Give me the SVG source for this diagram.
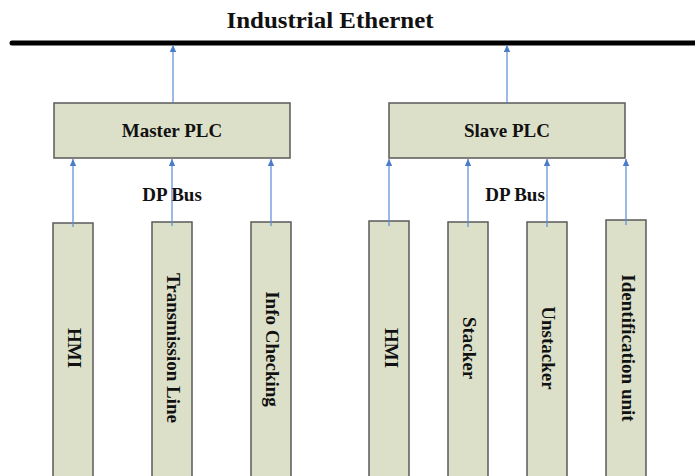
<svg xmlns="http://www.w3.org/2000/svg" width="695" height="476" viewBox="0 0 695 476">
<defs>
<style>
.box{fill:#dde0c9;stroke:#5a5a5a;stroke-width:1.5}
.t{font-family:"Liberation Serif","Times New Roman",serif;font-weight:bold;font-size:19px;fill:#111;text-anchor:middle}
.v{dominant-baseline:central}
.c{stroke:#5b8ad4;stroke-width:1.2;fill:none;marker-end:url(#ah)}
</style>
<marker id="ah" markerWidth="8" markerHeight="8" refX="7" refY="4" orient="auto" markerUnits="userSpaceOnUse">
<path d="M0,0.8 L7,4 L0,7.2 Z" fill="#4a7cc9"/>
</marker>
</defs>
<rect width="695" height="476" fill="#fff"/>
<g id="ethernet">
<line x1="12" y1="43" x2="700" y2="43" stroke="#000" stroke-width="5" stroke-linecap="round"/>
<text class="t" x="330" y="28" style="font-size:24px" textLength="207" lengthAdjust="spacingAndGlyphs">Industrial Ethernet</text>
</g>
<g id="master-plc">
<rect class="box" x="54" y="103" width="236" height="55"/>
<text class="t" x="172" y="137">Master PLC</text>
</g>
<g id="slave-plc">
<rect class="box" x="389" y="103" width="236" height="55"/>
<text class="t" x="507" y="137">Slave PLC</text>
</g>
<g id="dp-bus-labels">
<text class="t" x="172" y="201">DP Bus</text>
<text class="t" x="515" y="201">DP Bus</text>
</g>
<g id="m-hmi">
<rect class="box" x="53" y="223" width="40" height="260"/>
<text class="t v" transform="translate(74,348) rotate(90)">HMI</text>
</g>
<g id="m-transmission">
<rect class="box" x="152" y="222" width="40" height="260"/>
<text class="t v" transform="translate(173,348) rotate(90)">Transmission Line</text>
</g>
<g id="m-info">
<rect class="box" x="251" y="222" width="40" height="260"/>
<text class="t v" transform="translate(272,349) rotate(90)">Info Checking</text>
</g>
<g id="s-hmi">
<rect class="box" x="369" y="221" width="40" height="260"/>
<text class="t v" transform="translate(391,348) rotate(90)">HMI</text>
</g>
<g id="s-stacker">
<rect class="box" x="448" y="222" width="40" height="260"/>
<text class="t v" transform="translate(469,348) rotate(90)">Stacker</text>
</g>
<g id="s-unstacker">
<rect class="box" x="527" y="222" width="40" height="260"/>
<text class="t v" transform="translate(548,348) rotate(90)">Unstacker</text>
</g>
<g id="s-ident">
<rect class="box" x="606" y="220" width="40" height="260"/>
<text class="t v" transform="translate(628,348) rotate(90)">Identification unit</text>
</g>
<g id="connectors">
<line class="c" x1="173" y1="103" x2="173" y2="45"/>
<line class="c" x1="507" y1="103" x2="507" y2="45"/>
<line class="c" x1="73" y1="227" x2="73" y2="159"/>
<line class="c" x1="172" y1="226" x2="172" y2="159"/>
<line class="c" x1="271" y1="226" x2="271" y2="159"/>
<line class="c" x1="389" y1="226" x2="389" y2="159"/>
<line class="c" x1="468" y1="227" x2="468" y2="159"/>
<line class="c" x1="547" y1="227" x2="547" y2="159"/>
<line class="c" x1="626" y1="225" x2="626" y2="159"/>
</g>
</svg>
